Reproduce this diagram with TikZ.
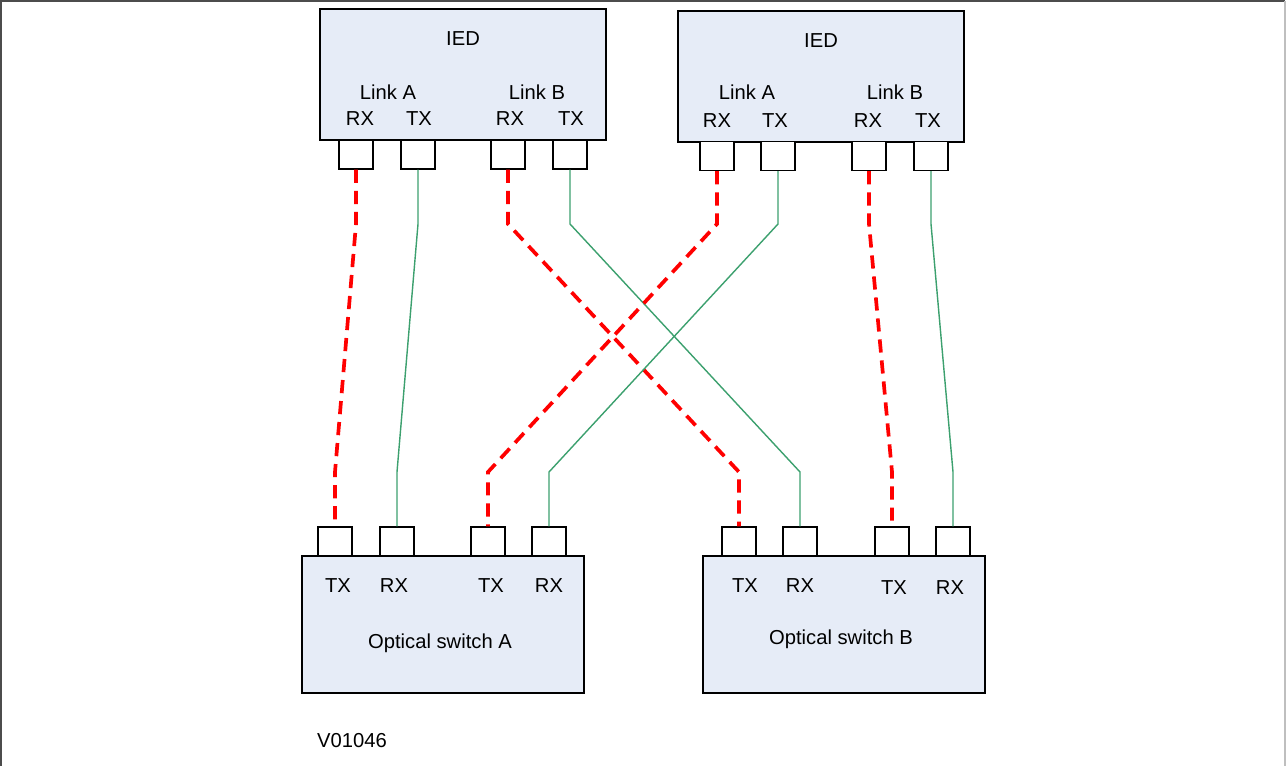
\documentclass[tikz,border=0pt]{standalone}
\usepackage{fontspec}
\setmainfont{Liberation Sans}
\usetikzlibrary{positioning}
\definecolor{boxfill}{RGB}{230,236,247}
\definecolor{fibregreen}{RGB}{60,160,110}

\begin{document}
\begin{tikzpicture}[x=0.02cm,y=-0.02cm,font=\fontsize{11.5}{13}\selectfont,
  ied/.style={draw, line width=0.85pt, fill=boxfill, minimum width=5.72cm, minimum height=2.62cm, inner sep=0pt},
  switchbox/.style={draw, line width=0.85pt, fill=boxfill, minimum width=5.64cm, minimum height=2.74cm, inner sep=0pt},
  port/.style={draw, line width=0.85pt, fill=white, minimum width=0.68cm, minimum height=0.58cm, inner sep=0pt},
  rxline/.style={red, line width=2.1pt, dash pattern=on 7.5pt off 4.5pt},
  txline/.style={fibregreen, line width=0.8pt}]
  \useasboundingbox (0,0) rectangle (1287,766);
  \draw[black!70, line width=1.2pt] (1,766) -- (1,1) -- (1285,1);
  \draw[black!25, line width=1.2pt] (1285,1) -- (1285,766);

  % IED units
  \node[ied] (ied1) at (463,74.5) {};
  \node[ied] (ied2) at (821,76.5) {};
  \node (ied1lbl) at (463,39) {IED};
  \node (ied2lbl) at (821,41) {IED};
  \node (ied1la) at (388,92) {Link A};
  \node (ied1lb) at (537,92) {Link B};
  \node (ied2la) at (747,92) {Link A};
  \node (ied2lb) at (895,92) {Link B};
  \node at (360,119) {RX};
  \node at (419,119) {TX};
  \node at (510,119) {RX};
  \node at (571,119) {TX};
  \node at (717,121) {RX};
  \node at (775,121) {TX};
  \node at (868,121) {RX};
  \node at (928,121) {TX};

  \node[port] (i1rxa) at (356,154.5) {};
  \node[port] (i1txa) at (418,154.5) {};
  \node[port] (i1rxb) at (508,154.5) {};
  \node[port] (i1txb) at (570,154.5) {};
  \node[port] (i2rxa) at (717,156) {};
  \node[port] (i2txa) at (778,156) {};
  \node[port] (i2rxb) at (869,156) {};
  \node[port] (i2txb) at (931,156) {};

  % optical switches
  \node[switchbox] (swa) at (443,624.5) {};
  \node[switchbox] (swb) at (844,624.5) {};
  \node (swalbl) at (440,643) {Optical switch A};
  \node (swblbl) at (841,639) {Optical switch B};
  \node at (338,586) {TX};
  \node at (394,586) {RX};
  \node at (491,586) {TX};
  \node at (549,586) {RX};
  \node at (745,586) {TX};
  \node at (800,586) {RX};
  \node at (894,588) {TX};
  \node at (950,588) {RX};

  \node[port] (satx1) at (335,541.5) {};
  \node[port] (sarx1) at (397,541.5) {};
  \node[port] (satx2) at (488,541.5) {};
  \node[port] (sarx2) at (549,541.5) {};
  \node[port] (sbtx1) at (739,541.5) {};
  \node[port] (sbrx1) at (800,541.5) {};
  \node[port] (sbtx2) at (892,541.5) {};
  \node[port] (sbrx2) at (953,541.5) {};

  \coordinate (upper) at (0,224);
  \coordinate (lower) at (0,472);

  % fibres
  \draw[rxline] (i1rxa.south) -- (i1rxa.south |- upper) -- (satx1.north |- lower) -- (satx1.north);
  \draw[txline] (i1txa.south) -- (i1txa.south |- upper) -- (sarx1.north |- lower) -- (sarx1.north);
  \draw[rxline] (i1rxb.south) -- (i1rxb.south |- upper) -- (sbtx1.north |- lower) -- (sbtx1.north);
  \draw[txline] (i1txb.south) -- (i1txb.south |- upper) -- (sbrx1.north |- lower) -- (sbrx1.north);
  \draw[rxline] (i2rxa.south) -- (i2rxa.south |- upper) -- (satx2.north |- lower) -- (satx2.north);
  \draw[txline] (i2txa.south) -- (i2txa.south |- upper) -- (sarx2.north |- lower) -- (sarx2.north);
  \draw[rxline] (i2rxb.south) -- (i2rxb.south |- upper) -- (sbtx2.north |- lower) -- (sbtx2.north);
  \draw[txline] (i2txb.south) -- (i2txb.south |- upper) -- (sbrx2.north |- lower) -- (sbrx2.north);

  \node (code) at (352,741) {V01046};
\end{tikzpicture}
\end{document}
